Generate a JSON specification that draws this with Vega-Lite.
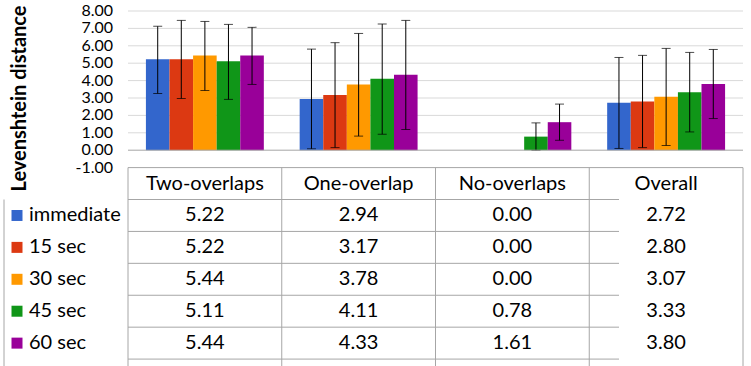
{
  "$schema": "https://vega.github.io/schema/vega-lite/v6.json",
  "width": 615,
  "height": 348,
  "autosize": {"type": "none"},
  "padding": {"left": 128, "top": 11, "right": 8, "bottom": 7},
  "background": "white",
  "config": {
    "view": {"stroke": null},
    "font": "Lato",
    "locale": {"number": {"decimal": ".", "thousands": ",", "grouping": [3], "currency": ["$", ""], "minus": "-"}},
    "axisY": {
      "labels": false, "grid": false, "domain": false, "ticks": false,
      "titleFont": "Lato", "titleFontSize": 20, "titleFontWeight": "bold", "titleColor": "#000000"
    }
  },
  "datasets": {
    "bars": [
      {"cat": "Two-overlaps", "series": "immediate", "value": 5.22, "lo": 3.26, "hi": 7.12},
      {"cat": "Two-overlaps", "series": "15 sec", "value": 5.22, "lo": 2.97, "hi": 7.46},
      {"cat": "Two-overlaps", "series": "30 sec", "value": 5.44, "lo": 3.43, "hi": 7.40},
      {"cat": "Two-overlaps", "series": "45 sec", "value": 5.11, "lo": 2.92, "hi": 7.23},
      {"cat": "Two-overlaps", "series": "60 sec", "value": 5.44, "lo": 3.78, "hi": 7.06},
      {"cat": "One-overlap", "series": "immediate", "value": 2.94, "lo": 0.08, "hi": 5.81},
      {"cat": "One-overlap", "series": "15 sec", "value": 3.17, "lo": 0.15, "hi": 6.18},
      {"cat": "One-overlap", "series": "30 sec", "value": 3.78, "lo": 0.81, "hi": 6.71},
      {"cat": "One-overlap", "series": "45 sec", "value": 4.11, "lo": 0.92, "hi": 7.25},
      {"cat": "One-overlap", "series": "60 sec", "value": 4.33, "lo": 1.19, "hi": 7.46},
      {"cat": "No-overlaps", "series": "immediate", "value": 0.00, "lo": null, "hi": null},
      {"cat": "No-overlaps", "series": "15 sec", "value": 0.00, "lo": null, "hi": null},
      {"cat": "No-overlaps", "series": "30 sec", "value": 0.00, "lo": null, "hi": null},
      {"cat": "No-overlaps", "series": "45 sec", "value": 0.78, "lo": -0.01, "hi": 1.57},
      {"cat": "No-overlaps", "series": "60 sec", "value": 1.61, "lo": 0.57, "hi": 2.65},
      {"cat": "Overall", "series": "immediate", "value": 2.72, "lo": 0.10, "hi": 5.33},
      {"cat": "Overall", "series": "15 sec", "value": 2.80, "lo": 0.15, "hi": 5.45},
      {"cat": "Overall", "series": "30 sec", "value": 3.07, "lo": 0.27, "hi": 5.85},
      {"cat": "Overall", "series": "45 sec", "value": 3.33, "lo": 1.05, "hi": 5.62},
      {"cat": "Overall", "series": "60 sec", "value": 3.80, "lo": 1.82, "hi": 5.79}
    ],
    "yticks": [
      {"v": -1}, {"v": 0}, {"v": 1}, {"v": 2}, {"v": 3}, {"v": 4}, {"v": 5}, {"v": 6}, {"v": 7}, {"v": 8}
    ],
    "cats": [
      {"cat": "Two-overlaps"}, {"cat": "One-overlap"}, {"cat": "No-overlaps"}, {"cat": "Overall"}, {"cat": "_end"}
    ],
    "rows": [
      {"row": "immediate"}, {"row": "15 sec"}, {"row": "30 sec"}, {"row": "45 sec"}, {"row": "60 sec"}, {"row": "_end"}
    ]
  },
  "layer": [
    {
      "layer": [
        {
          "data": {"name": "yticks"},
          "transform": [{"filter": "datum.v >= 1"}],
          "mark": {"type": "rule", "color": "#d9d9d9", "strokeWidth": 1},
          "encoding": {
            "y": {"field": "v", "type": "quantitative",
                  "scale": {"domain": [-12, 8], "nice": false, "zero": false}}
          }
        },
        {
          "data": {"name": "bars"},
          "mark": {"type": "bar"},
          "encoding": {
            "x": {"field": "cat", "type": "nominal", "axis": null,
                  "scale": {"type": "band", "domain": ["Two-overlaps", "One-overlap", "No-overlaps", "Overall"], "paddingInner": 0, "paddingOuter": 0}},
            "xOffset": {"field": "series", "type": "nominal",
                  "scale": {"domain": ["immediate", "15 sec", "30 sec", "45 sec", "60 sec"], "paddingInner": 0, "paddingOuter": 0.76}},
            "y": {"field": "value", "type": "quantitative",
                  "axis": {"title": "Levenshtein distance", "titleX": -109, "titleY": 87, "titleAngle": -90, "titleAlign": "center", "titleBaseline": "middle"}},
            "color": {"field": "series", "type": "nominal", "legend": null,
                      "scale": {"domain": ["immediate", "15 sec", "30 sec", "45 sec", "60 sec"],
                                "range": ["#3366CC", "#DC3912", "#FF9900", "#109618", "#990099"]}}
          }
        },
        {
          "data": {"name": "bars"},
          "mark": {"type": "rule", "color": "#000000", "strokeWidth": 1},
          "encoding": {
            "x": {"field": "cat", "type": "nominal"},
            "xOffset": {"field": "series", "type": "nominal"},
            "y": {"field": "lo", "type": "quantitative"},
            "y2": {"field": "hi"}
          }
        },
        {
          "data": {"name": "bars"},
          "mark": {"type": "tick", "color": "#000000", "size": 9, "thickness": 1},
          "encoding": {
            "x": {"field": "cat", "type": "nominal"},
            "xOffset": {"field": "series", "type": "nominal"},
            "y": {"field": "hi", "type": "quantitative"}
          }
        },
        {
          "data": {"name": "bars"},
          "mark": {"type": "tick", "color": "#000000", "size": 9, "thickness": 1},
          "encoding": {
            "x": {"field": "cat", "type": "nominal"},
            "xOffset": {"field": "series", "type": "nominal"},
            "y": {"field": "lo", "type": "quantitative"}
          }
        },
        {
          "data": {"name": "yticks"},
          "transform": [{"filter": "datum.v <= 0"}],
          "mark": {"type": "rule", "color": "#a6a6a6", "strokeWidth": 1},
          "encoding": {
            "y": {"field": "v", "type": "quantitative"}
          }
        },
        {
          "data": {"name": "yticks"},
          "mark": {"type": "text", "font": "Lato", "fontSize": 16, "color": "#000000", "align": "right", "baseline": "middle", "dx": -15},
          "encoding": {
            "x": {"datum": "Two-overlaps", "type": "nominal", "bandPosition": 0},
            "y": {"field": "v", "type": "quantitative"},
            "text": {"field": "v", "type": "quantitative", "format": ".2f"}
          }
        }
      ]
    },
    {
      "layer": [
        {
          "data": {"name": "rows"},
          "mark": {"type": "rule", "color": "#a6a6a6", "strokeWidth": 1, "xOffset": -124},
          "encoding": {
            "y": {"field": "row", "type": "nominal", "bandPosition": 0, "axis": null,
                  "scale": {"type": "band", "domain": ["header", "immediate", "15 sec", "30 sec", "45 sec", "60 sec", "_end"], "range": [156.6, 380.0], "paddingInner": 0, "paddingOuter": 0}}
          }
        },
        {
          "data": {"name": "cats"},
          "mark": {"type": "rule", "color": "#a6a6a6", "strokeWidth": 1},
          "encoding": {
            "x": {"field": "cat", "type": "nominal", "bandPosition": 0, "axis": null,
                  "scale": {"type": "band", "domain": ["Two-overlaps", "One-overlap", "No-overlaps", "Overall", "_end"], "range": [0, 768.75], "paddingInner": 0, "paddingOuter": 0}},
            "y": {"datum": "header", "type": "nominal", "bandPosition": 0, "axis": null},
            "y2": {"datum": "_end"}
          }
        },
        {
          "data": {"name": "cats"},
          "transform": [{"filter": "datum.cat === 'Two-overlaps'"}],
          "mark": {"type": "rule", "color": "#a6a6a6", "strokeWidth": 1, "xOffset": -124},
          "encoding": {
            "x": {"datum": "Two-overlaps", "type": "nominal", "bandPosition": 0, "axis": null},
            "y": {"datum": "immediate", "type": "nominal", "bandPosition": 0, "axis": null},
            "y2": {"datum": "_end"}
          }
        },
        {
          "data": {"name": "cats"},
          "transform": [{"filter": "datum.cat !== '_end'"}],
          "mark": {"type": "text", "font": "Lato", "fontSize": 20, "color": "#000000", "baseline": "middle", "align": "center"},
          "encoding": {
            "x": {"field": "cat", "type": "nominal", "axis": null},
            "y": {"datum": "header", "type": "nominal", "axis": null},
            "text": {"field": "cat"}
          }
        },
        {
          "data": {"name": "bars"},
          "mark": {"type": "text", "font": "Lato", "fontSize": 20, "color": "#000000", "baseline": "middle", "align": "center"},
          "encoding": {
            "x": {"field": "cat", "type": "nominal", "axis": null},
            "y": {"field": "series", "type": "nominal", "axis": null},
            "text": {"field": "value", "type": "quantitative", "format": ".2f"}
          }
        },
        {
          "data": {"name": "rows"},
          "transform": [{"filter": "datum.row !== '_end'"}],
          "mark": {"type": "text", "font": "Lato", "fontSize": 20, "color": "#000000", "baseline": "middle", "align": "left", "dx": -99},
          "encoding": {
            "x": {"datum": "Two-overlaps", "type": "nominal", "bandPosition": 0, "axis": null},
            "y": {"field": "row", "type": "nominal", "axis": null},
            "text": {"field": "row"}
          }
        },
        {
          "data": {"name": "rows"},
          "transform": [{"filter": "datum.row !== '_end'"}],
          "mark": {"type": "square", "filled": true, "opacity": 1, "size": 121, "xOffset": -111},
          "encoding": {
            "x": {"datum": "Two-overlaps", "type": "nominal", "bandPosition": 0, "axis": null},
            "y": {"field": "row", "type": "nominal", "axis": null},
            "color": {"field": "row", "type": "nominal", "legend": null}
          }
        }
      ]
    }
  ],
  "resolve": {"scale": {"x": "independent", "y": "independent"}}
}
